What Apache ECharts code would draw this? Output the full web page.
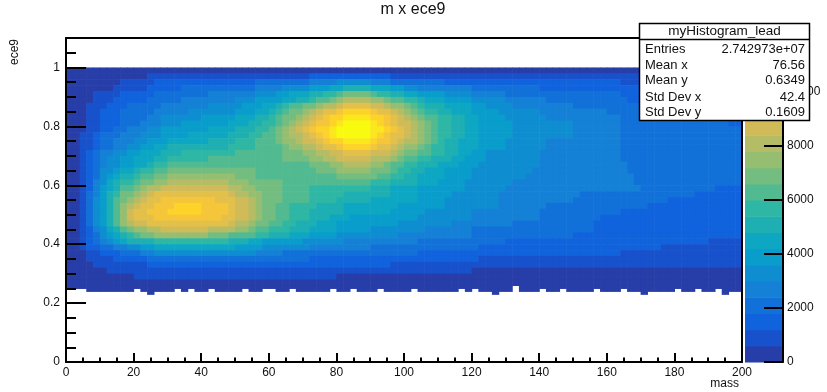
<!DOCTYPE html>
<html>
<head>
<meta charset="utf-8">
<title>m x ece9</title>
<script src="https://cdn.jsdelivr.net/npm/echarts@6/dist/echarts.min.js"></script>
<style>
  html, body { margin: 0; padding: 0; background: #fff; }
  #chart { width: 827px; height: 392px; }
</style>
</head>
<body>
<div id="chart"></div>
<script>
// binning of the 2D histogram
const xBinWidth = 2
const xBinCount = 100
const yBinHeight = 0.02
const yTopEdge = 1.0

// palette contour edges (20 bands of 600 entries)
const zLevels = [0, 600, 1200, 1800, 2400, 3000, 3600, 4200, 4800, 5400, 6000,
  6600, 7200, 7800, 8400, 9000, 9600, 10200, 10800, 11400, 12000]

// band index read per row, top row (0.98-1.00) first.
// "x:b" = from mass x onwards the bin sits in band b
const rowBands = [
  '0:0',
  '0:0 24:1 72:2 96:1 180:0',
  '0:0 16:1 26:2 56:3 72:4 80:5 90:4 96:3 112:2 164:1',
  '0:0 14:1 24:2 34:3 56:4 64:5 72:6 78:7 82:8 90:7 96:6 100:5 104:4 120:3 140:2',
  '0:0 8:1 16:2 26:3 42:4 56:5 62:6 66:7 72:8 76:9 80:10 82:11 90:10 92:9 96:8 100:7 104:6 112:5 120:4 130:3 164:2',
  '0:0 8:1 14:2 24:3 34:4 50:5 56:6 64:7 68:8 72:9 74:10 78:11 80:12 82:13 90:12 94:11 96:10 100:9 104:8 106:7 112:6 120:5 130:4 142:3 166:2',
  '0:0 6:1 12:2 18:3 28:4 42:5 52:6 58:7 62:8 64:9 66:10 70:11 74:12 76:13 80:14 82:15 90:14 94:13 96:12 100:11 102:10 104:9 106:8 112:7 120:6 124:5 132:4 150:3 176:2',
  '0:0 6:1 10:2 16:3 26:4 36:5 50:6 56:7 60:8 62:9 64:10 66:11 70:12 72:13 74:14 76:15 80:16 82:17 90:16 92:15 96:14 98:13 100:12 102:11 104:10 106:9 110:8 114:7 120:6 128:5 140:4 160:3 180:2',
  '0:0 6:1 10:2 16:3 24:4 28:5 40:6 50:7 56:8 60:9 62:10 64:11 68:12 70:13 72:14 74:15 76:16 78:17 82:18 90:17 94:16 96:15 98:14 100:13 102:12 104:11 106:10 110:9 114:8 118:7 122:6 130:5 142:4 164:3 188:2',
  '0:0 6:1 10:2 16:3 22:4 28:5 34:6 48:7 54:8 58:9 62:10 64:11 66:12 68:13 70:14 72:15 74:16 78:17 80:18 82:19 90:18 92:17 94:16 96:15 98:14 102:13 104:12 106:11 108:10 110:9 114:8 118:7 122:6 132:5 150:4 164:3 196:2',
  '0:0 6:1 10:2 14:3 18:4 24:5 28:6 42:7 50:8 56:9 60:10 62:11 64:12 66:13 68:14 70:15 72:16 74:17 78:18 80:19 90:18 94:17 96:16 98:15 100:14 102:13 104:12 106:11 108:10 110:9 114:8 118:7 122:6 132:5 150:4 164:3',
  '0:0 4:1 8:2 10:3 16:4 22:5 28:6 36:7 48:8 54:9 58:10 62:11 64:12 66:13 70:14 72:15 74:16 76:17 78:18 80:19 90:18 92:17 94:16 96:15 100:14 102:13 104:12 106:11 108:10 110:9 114:8 118:7 122:6 132:5 150:4 164:3',
  '0:0 4:1 8:2 10:3 14:4 20:5 24:6 30:7 42:8 50:9 56:10 62:11 64:12 68:13 70:14 74:15 76:16 78:17 82:18 90:17 92:16 96:15 98:14 100:13 104:12 106:11 108:10 110:9 112:8 116:7 122:6 130:5 142:4 164:3',
  '0:0 4:1 8:2 10:3 14:4 18:5 22:6 26:7 30:8 48:9 56:10 64:11 66:12 70:13 74:14 76:15 80:16 82:17 90:16 92:15 96:14 98:13 100:12 104:11 106:10 108:9 112:8 116:7 122:6 130:5 142:4 164:3',
  '0:0 4:1 6:2 8:3 10:4 14:5 18:6 22:7 28:8 34:9 50:10 64:11 70:12 74:13 78:14 82:15 90:14 96:13 98:12 100:11 104:10 108:9 112:8 116:7 120:6 124:5 140:4 164:3',
  '0:0 4:1 6:2 8:3 10:4 12:5 16:6 20:7 26:8 30:9 42:10 64:11 72:12 76:13 80:14 90:13 96:12 98:11 100:10 104:9 108:8 114:7 118:6 124:5 140:4 164:3',
  '0:0 4:1 6:2 8:3 10:4 12:5 16:6 20:7 24:8 26:9 30:10 72:11 78:12 82:13 90:12 94:11 96:10 100:9 104:8 110:7 116:6 122:5 140:4 166:3',
  '0:0 4:1 6:2 8:3 10:5 14:6 16:7 20:8 22:9 26:10 30:11 56:10 74:11 80:12 90:11 96:10 98:9 102:8 106:7 112:6 120:5 138:4 166:3',
  '0:0 4:1 6:2 8:3 10:5 12:6 14:7 16:8 20:9 22:10 26:11 30:12 50:11 56:10 80:11 92:10 96:9 100:8 104:7 112:6 120:5 136:4 168:3',
  '0:0 4:1 6:2 8:4 10:5 12:7 14:8 16:9 20:10 22:11 26:12 30:13 48:12 54:11 64:10 90:9 96:8 104:7 110:6 118:5 132:4 168:3',
  '0:0 4:1 6:2 8:4 10:6 12:7 14:8 16:10 20:11 22:12 24:13 28:14 48:13 52:12 56:11 64:10 72:9 90:8 96:7 104:6 118:5 130:4 170:3 192:2',
  '0:0 4:1 6:3 8:4 10:6 12:8 14:9 16:11 20:12 22:13 24:14 26:15 48:14 50:13 54:12 58:11 64:10 72:9 82:8 96:7 104:6 114:5 128:4 152:3 186:2',
  '0:0 4:1 6:3 8:5 10:6 12:8 14:10 16:11 18:12 20:13 22:14 24:15 28:16 44:15 50:14 54:13 56:12 58:11 64:10 72:9 80:8 90:7 104:6 112:5 128:4 150:3 178:2',
  '0:0 4:1 6:3 8:5 10:6 12:8 14:10 16:12 18:13 20:14 22:15 26:16 32:17 40:16 48:15 50:14 54:13 56:12 58:11 62:10 66:9 74:8 82:7 98:6 112:5 128:4 142:3 172:2',
  '0:0 4:1 6:3 8:5 10:6 12:8 14:10 16:12 18:14 20:15 24:16 30:17 40:16 48:15 50:14 54:13 56:12 58:11 62:10 66:9 72:8 82:7 96:6 106:5 120:4 140:3 164:2',
  '0:0 4:1 6:3 8:5 10:6 12:8 14:10 16:12 18:14 20:15 26:16 46:15 50:14 54:13 56:12 58:11 62:10 66:9 72:8 78:7 84:6 104:5 120:4 140:3 158:2',
  '0:0 4:1 6:3 8:5 10:6 12:8 14:10 16:12 18:13 20:14 24:15 48:14 50:13 54:12 56:11 60:10 64:9 68:8 74:7 80:6 98:5 114:4 132:3 156:2',
  '0:0 4:1 6:2 8:4 10:5 12:7 14:8 16:10 18:11 20:12 24:13 28:14 42:13 50:12 54:11 56:10 60:9 66:8 72:7 80:6 90:5 106:4 120:3 156:2',
  '0:0 4:1 6:2 8:3 10:5 12:6 14:7 16:8 18:9 20:10 22:11 26:12 42:11 48:10 56:9 60:8 66:7 72:6 80:5 98:4 120:3 150:2',
  '0:0 4:1 6:2 8:3 10:4 12:5 14:6 16:7 18:8 26:9 48:8 54:7 58:6 70:5 82:4 104:3 130:2 190:1',
  '0:0 4:1 6:2 10:3 14:4 18:5 22:6 26:7 50:6 58:5 72:4 90:3 122:2 176:1',
  '0:0 6:1 10:2 16:3 22:4 26:5 56:4 64:3 104:2 164:1',
  '0:0 6:1 14:2 24:3 72:2 122:1',
  '0:0 8:1 24:2 96:1',
  '0:0 12:1 120:0',
  '0:0 20:1 80:0',
  '0:0',
  '0:0'
]

// lowest filled row (0.24-0.26): bins that start higher or lower than 0.24
const raisedBins = [0, 1, 2, 10, 16, 18, 21, 26, 29, 30, 33, 39, 42, 46, 51, 58, 60, 70, 73, 78, 82, 90, 93, 96]
const highRaisedBins = [66]
const droppedBins = [12, 63, 85, 97]

const statsTitle = 'myHistogram_lead'
const statsLabels = ['Entries', 'Mean x', 'Mean y', 'Std Dev x', 'Std Dev y']
const statsValues = ['2.742973e+07', '76.56', '0.6349', '42.4', '0.1609']

// ROOT kBird palette
const birdStops = [0.0, 0.125, 0.25, 0.375, 0.5, 0.625, 0.75, 0.875, 1.0]
const birdRed = [0.2082, 0.0592, 0.0780, 0.0232, 0.1802, 0.5301, 0.8186, 0.9956, 0.9764]
const birdGreen = [0.1664, 0.3599, 0.5041, 0.6419, 0.7178, 0.7492, 0.7328, 0.7862, 0.9832]
const birdBlue = [0.5293, 0.8684, 0.8385, 0.7914, 0.6425, 0.4662, 0.3499, 0.1968, 0.0539]

function bird(f) {
  let k = 0
  while (k < birdStops.length - 2 && f > birdStops[k + 1]) k++
  const t = (f - birdStops[k]) / (birdStops[k + 1] - birdStops[k])
  const c = (arr) => Math.round(255 * (arr[k] + t * (arr[k + 1] - arr[k])))
  return 'rgb(' + c(birdRed) + ',' + c(birdGreen) + ',' + c(birdBlue) + ')'
}

const nBands = zLevels.length - 1
const bandColors = []
for (let i = 0; i < nBands; i++) {
  const idx = Math.floor((i + 0.99) * 255 / nBands)
  bandColors.push(bird(Math.min(idx, 254) / 254))
}

function firstRowLow(j) {
  if (highRaisedBins.includes(j)) return 0.26
  if (raisedBins.includes(j)) return 0.25
  if (droppedBins.includes(j)) return 0.23
  return 0.24
}

const cells = []
rowBands.forEach((row, r) => {
  const yHigh = +(yTopEdge - r * yBinHeight).toFixed(2)
  const yLow = +(yHigh - yBinHeight).toFixed(2)
  const breaks = row.split(' ').map(s => s.split(':').map(Number))
  for (let j = 0; j < xBinCount; j++) {
    const x0 = j * xBinWidth
    let band = 0
    breaks.forEach(([bx, b]) => { if (bx <= x0) band = b })
    const low = r === rowBands.length - 1 ? firstRowLow(j) : yLow
    if (low >= yHigh) continue
    cells.push([x0, x0 + xBinWidth, low, yHigh, band])
  }
})

const paletteCells = bandColors.map((c, i) => [0, 1, zLevels[i], zLevels[i + 1], i])

function boxItem(params, api) {
  const a = api.coord([api.value(0), api.value(3)])
  const b = api.coord([api.value(1), api.value(2)])
  return {
    type: 'rect',
    shape: { x: a[0], y: a[1], width: b[0] - a[0] + 0.6, height: b[1] - a[1] + 0.6 },
    style: { fill: bandColors[api.value(4)] }
  }
}

const font = 'Liberation Sans, Arial, Helvetica, sans-serif'
const ink = '#111'
const black = { color: '#000', width: 2 }

const chart = echarts.init(document.getElementById('chart'))

const statsGraphics = [
  { type: 'rect', z: 100, shape: { x: 639.5, y: 23.5, width: 170, height: 97 },
    style: { fill: '#fff', stroke: '#000', lineWidth: 1.5 } },
  { type: 'line', z: 101, shape: { x1: 639.5, y1: 39.5, x2: 809.5, y2: 39.5 },
    style: { stroke: '#000', lineWidth: 1.5 } },
  { type: 'text', z: 101, x: 724.5, y: 31.5,
    style: { text: statsTitle, font: '13.5px ' + font, fill: ink, align: 'center', verticalAlign: 'middle' } }
]
const statsY = [49, 65, 80, 97, 112]
statsLabels.forEach((lab, i) => {
  statsGraphics.push({ type: 'text', z: 101, x: 645, y: statsY[i],
    style: { text: lab, font: '13px ' + font, fill: ink, align: 'left', verticalAlign: 'middle' } })
  statsGraphics.push({ type: 'text', z: 101, x: 805, y: statsY[i],
    style: { text: statsValues[i], font: '13px ' + font, fill: ink, align: 'right', verticalAlign: 'middle' } })
})

chart.setOption({
  animation: false,
  backgroundColor: '#fff',
  grid: [
    { left: 66, right: 85, top: 38, bottom: 30 },
    { left: 745, width: 38, top: 38, bottom: 30 }
  ],
  xAxis: [
    {
      gridIndex: 0, type: 'value', min: 0, max: 200, interval: 20, z: 5,
      axisLine: { onZero: false, lineStyle: black },
      axisTick: { inside: true, length: 9, lineStyle: black },
      minorTick: { show: true, splitNumber: 4, length: 4.5, lineStyle: black },
      axisLabel: { fontSize: 12, fontFamily: font, color: ink, margin: 5 },
      splitLine: { show: false }
    },
    {
      gridIndex: 0, type: 'value', min: 0, max: 200, position: 'top', z: 5,
      axisLine: { onZero: false, lineStyle: black },
      axisTick: { show: false }, axisLabel: { show: false }, splitLine: { show: false }
    },
    { gridIndex: 1, type: 'value', min: 0, max: 1, show: false }
  ],
  yAxis: [
    {
      gridIndex: 0, type: 'value', min: 0, max: 1.1, interval: 0.2, position: 'left', z: 5,
      axisLine: { onZero: false, lineStyle: black },
      axisTick: { inside: true, length: 20, lineStyle: black },
      axisLabel: { fontSize: 12, fontFamily: font, color: ink, margin: 6, showMaxLabel: false },
      splitLine: { show: false }
    },
    {
      gridIndex: 0, type: 'value', min: 0, max: 1.1, interval: 0.05, position: 'left', z: 5,
      axisLine: { show: false, onZero: false },
      axisTick: { inside: true, length: 10, lineStyle: black },
      axisLabel: { show: false }, splitLine: { show: false }
    },
    {
      gridIndex: 0, type: 'value', min: 0, max: 1.1, position: 'right', z: 5,
      axisLine: { onZero: false, lineStyle: black },
      axisTick: { show: false }, axisLabel: { show: false }, splitLine: { show: false }
    },
    {
      gridIndex: 1, type: 'value', min: 0, max: 12000, interval: 2000, position: 'right', z: 5,
      axisLine: { onZero: false, lineStyle: black },
      axisTick: { inside: true, length: 19, lineStyle: black },
      axisLabel: { fontSize: 12, fontFamily: font, color: ink, margin: 4, showMaxLabel: false,
        formatter: (v) => String(v) },
      splitLine: { show: false }
    }
  ],
  series: [
    {
      type: 'custom', xAxisIndex: 0, yAxisIndex: 0, z: 1, silent: true, clip: true,
      progressive: 0, renderItem: boxItem, encode: { x: [0, 1], y: [2, 3] }, data: cells
    },
    {
      type: 'custom', xAxisIndex: 2, yAxisIndex: 3, z: 1, silent: true,
      renderItem: boxItem, encode: { x: [0, 1], y: [2, 3] }, data: paletteCells
    }
  ],
  graphic: [
    { type: 'text', x: 413, y: 10,
      style: { text: 'm x ece9', font: '16px ' + font, fill: ink, align: 'center', verticalAlign: 'middle' } },
    { type: 'text', x: 15, y: 39, rotation: Math.PI / 2,
      style: { text: 'ece9', font: '12px ' + font, fill: ink, align: 'right', verticalAlign: 'middle' } },
    { type: 'text', x: 739, y: 384,
      style: { text: 'mass', font: '12px ' + font, fill: ink, align: 'right', verticalAlign: 'middle' } }
  ].concat(statsGraphics)
})
</script>
</body>
</html>
